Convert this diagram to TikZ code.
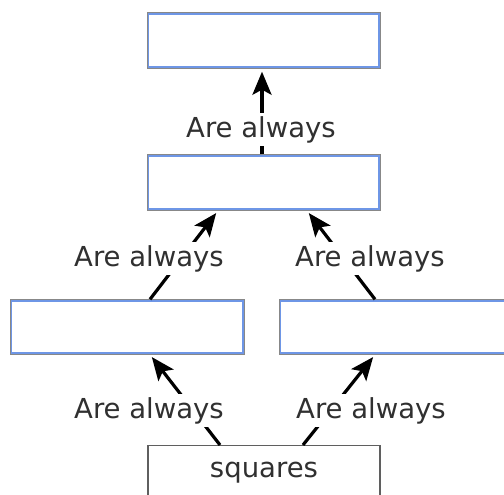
\documentclass[tikz,border=0pt]{standalone}
\usepackage{fontspec}
\setmainfont{DejaVu Sans}
\usetikzlibrary{arrows.meta}
\definecolor{boxgray}{HTML}{888888}
\definecolor{boxblue}{HTML}{6E96E6}
\definecolor{txt}{HTML}{303030}
\tikzset{
  box/.style={draw=boxgray, line width=1.4pt, minimum width=232pt, minimum height=55pt, inner sep=0pt},
  boxin/.style={draw=boxblue, line width=1.3pt},
  sqbox/.style={draw=boxgray!70!black, line width=1.4pt, minimum width=232pt, minimum height=55pt, inner sep=0pt},
  txtfont/.style={font=\fontsize{27.5}{31}\selectfont, text=txt},
  lbl/.style={txtfont, fill=white, inner sep=3pt, anchor=base},
  arr/.style={line width=3.2pt, -{Stealth[length=23pt, width=19pt, inset=5pt]}, black, shorten >=3pt}
}
\begin{document}
\begin{tikzpicture}[x=1pt, y=-1pt]
\useasboundingbox (0,0) rectangle (504,495);
\node[box] (top) at (264,40.5) {};
\node[box] (mid) at (264,182.5) {};
\node[box, minimum width=233pt, minimum height=54pt] (lb) at (127.5,327) {};
\node[box, minimum width=233pt, minimum height=54pt] (rb) at (396.5,327) {};
\node[sqbox, anchor=north] (sq) at (264,445) {};
\node[txtfont, anchor=base] (sqt) at (264,477) {squares};
\foreach \n in {top,mid,lb,rb}
  \draw[boxin] ([shift={(1.5pt,-1.6pt)}]\n.north west) rectangle ([shift={(-1.8pt,1.6pt)}]\n.south east);

\coordinate (t1) at ([xshift=-2pt]mid.north);
\coordinate (t2) at ([xshift=-2pt]top.south);
\coordinate (ml1) at ([xshift=22.5pt]lb.north);
\coordinate (ml2) at ([xshift=-46pt]mid.south);
\coordinate (mr1) at ([xshift=-21.5pt]rb.north);
\coordinate (mr2) at ([xshift=43pt]mid.south);
\coordinate (bl1) at ([xshift=-44pt]sq.north);
\coordinate (bl2) at ([xshift=22.5pt]lb.south);
\coordinate (br1) at ([xshift=39pt]sq.north);
\coordinate (br2) at ([xshift=-21.5pt]rb.south);

\draw[arr] (t1) -- (t2);
\draw[arr] (ml1) -- (ml2);
\draw[arr] (mr1) -- (mr2);
\draw[arr] (bl1) -- (bl2);
\draw[arr] (br1) -- (br2);

\node[lbl] (l1) at (261,137) {Are always};
\node[lbl] (l2) at (149,266) {Are always};
\node[lbl] (l3) at (370,266) {Are always};
\node[lbl] (l4) at (149,418) {Are always};
\node[lbl] (l5) at (371,418) {Are always};
\end{tikzpicture}
\end{document}
